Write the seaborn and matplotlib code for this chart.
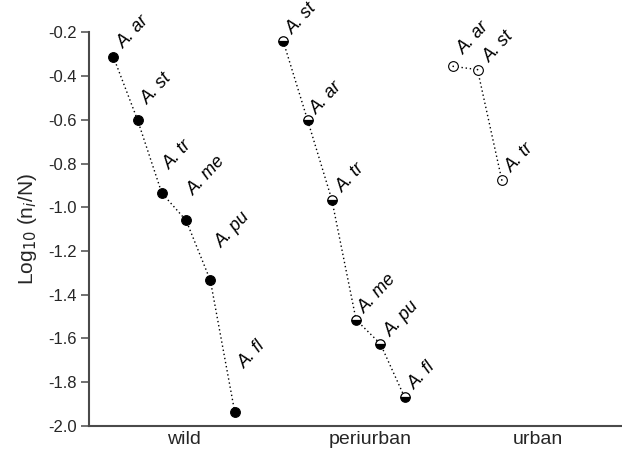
import numpy as np
import pandas as pd
import matplotlib
matplotlib.use("Agg")
import matplotlib.pyplot as plt
import seaborn as sns

# ------------------------------------------------------------
# data
# ------------------------------------------------------------
habitats = ["wild", "periurban", "urban"]

wild_species = ["A. ar", "A. st", "A. tr", "A. me", "A. pu", "A. fl"]
wild_log = [-0.31, -0.60, -0.935, -1.06, -1.335, -1.935]

peri_species = ["A. st", "A. ar", "A. tr", "A. me", "A. pu", "A. fl"]
peri_log = [-0.24, -0.60, -0.965, -1.515, -1.625, -1.87]

urban_species = ["A. ar", "A. st", "A. tr"]
urban_log = [-0.355, -0.37, -0.875]

y_ticks = [-2.0, -1.8, -1.6, -1.4, -1.2, -1.0, -0.8, -0.6, -0.4, -0.2]

# rank position of each group on the x axis (one slot gap between groups)
group_start = {"wild": 1, "periurban": 8, "urban": 15}
habitat_label_pos = [3.9, 11.6, 18.5]

# hand placed label offsets (pixels, right / up from the point)
wild_off = [(11, 8), (10, 15), (8, 23), (8, 24), (12, 32), (10, 43)]
peri_off = [(10, 6), (9, 5), (11, 7), (9, 6), (11, 7), (10, 7)]
urban_off = [(11, 11), (12, 7), (10, 7)]


def make_frame(name, species, values):
    start = group_start[name]
    return pd.DataFrame({
        "habitat": name,
        "species": species,
        "rank": [start + i for i in range(len(species))],
        "log": values,
    })


df_wild = make_frame("wild", wild_species, wild_log)
df_peri = make_frame("periurban", peri_species, peri_log)
df_urban = make_frame("urban", urban_species, urban_log)

# ------------------------------------------------------------
# style
# ------------------------------------------------------------
sns.set_style("ticks")
plt.rcParams["font.family"] = ["Liberation Sans", "DejaVu Sans"]
plt.rcParams["axes.unicode_minus"] = False

spine_col = "#4a4a4a"

fig = plt.figure(figsize=(6.22, 4.51), dpi=100)
ax = fig.add_axes([0.143, 0.056, 0.857, 0.872])

line_kw = dict(color="black", linestyle=(0, (1, 2)), linewidth=1.0,
               errorbar=None, legend=False, ax=ax)

# wild: filled circles
sns.lineplot(data=df_wild, x="rank", y="log", marker="o", markersize=7,
             markerfacecolor="black", markeredgecolor="black",
             markeredgewidth=0.8, **line_kw)

# periurban: half filled (bottom) circles
sns.lineplot(data=df_peri, x="rank", y="log", marker="o", markersize=6.8,
             fillstyle="bottom", markerfacecolor="black",
             markerfacecoloralt="white", markeredgecolor="black",
             markeredgewidth=0.9, **line_kw)

# urban: open circles with a dot in the middle
sns.lineplot(data=df_urban, x="rank", y="log", marker="o", markersize=7,
             markerfacecolor="white", markeredgecolor="black",
             markeredgewidth=0.8, **line_kw)
sns.scatterplot(data=df_urban, x="rank", y="log", s=1.5, color="black",
                edgecolor="none", legend=False, ax=ax, zorder=5)

# species labels
for df, offs in [(df_wild, wild_off), (df_peri, peri_off), (df_urban, urban_off)]:
    for (_, row), (dx, dy) in zip(df.iterrows(), offs):
        ax.annotate(row["species"], (row["rank"], row["log"]),
                    xytext=(dx, dy), textcoords="offset pixels",
                    rotation=47, rotation_mode="anchor",
                    ha="left", va="baseline", fontsize=13,
                    fontstyle="italic", color="black")

# ------------------------------------------------------------
# axes
# ------------------------------------------------------------
ax.set_xlim(0, 21.95)
ax.set_ylim(-2.0, -0.2)
ax.set_yticks(y_ticks)
ax.set_yticklabels([f"{v:.1f}" for v in y_ticks], fontsize=12)
ax.set_xticks(habitat_label_pos)
ax.set_xticklabels(habitats, fontsize=14)
ax.tick_params(axis="x", length=0, pad=4)
ax.tick_params(axis="y", length=6, width=1.1, color=spine_col, pad=3)

ax.set_xlabel("")
ax.set_ylabel(r"Log$_{10}$ (n$_i$/N)", fontsize=15, labelpad=6)

sns.despine(ax=ax)
for side in ["left", "bottom"]:
    ax.spines[side].set_color(spine_col)
    ax.spines[side].set_linewidth(1.5)

fig.savefig("out.png", dpi=100)
